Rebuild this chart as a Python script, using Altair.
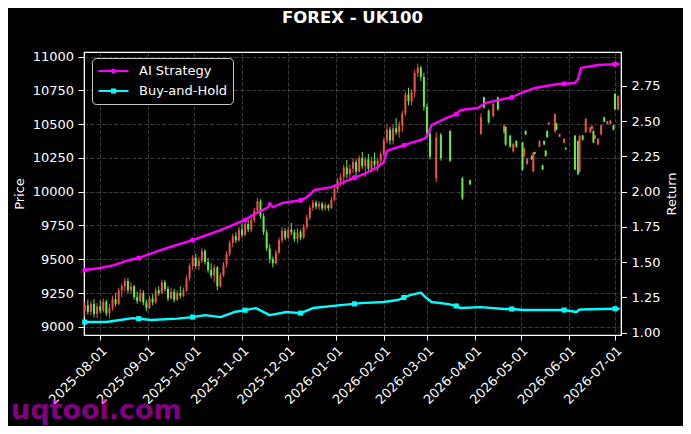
import altair as alt
import pandas as pd

# ---------------- data ----------------
candle_dates = [
    "2025-07-22", "2025-07-24", "2025-07-26", "2025-07-28", "2025-07-30",
    "2025-08-01", "2025-08-03", "2025-08-05", "2025-08-07", "2025-08-09", "2025-08-11", "2025-08-13", "2025-08-15",
    "2025-08-17", "2025-08-19", "2025-08-21", "2025-08-23", "2025-08-25", "2025-08-27", "2025-08-29", "2025-08-31",
    "2025-09-02", "2025-09-04", "2025-09-06", "2025-09-08", "2025-09-10", "2025-09-12", "2025-09-14", "2025-09-16",
    "2025-09-18", "2025-09-20", "2025-09-22", "2025-09-24", "2025-09-26", "2025-09-28", "2025-09-30",
    "2025-10-02", "2025-10-04", "2025-10-06", "2025-10-08", "2025-10-10", "2025-10-12", "2025-10-14", "2025-10-16",
    "2025-10-18", "2025-10-20", "2025-10-22", "2025-10-24", "2025-10-26", "2025-10-28", "2025-10-30",
    "2025-11-01", "2025-11-03", "2025-11-05", "2025-11-07", "2025-11-09", "2025-11-11", "2025-11-13", "2025-11-15",
    "2025-11-17", "2025-11-19", "2025-11-21", "2025-11-23", "2025-11-25", "2025-11-27", "2025-11-29",
    "2025-12-01", "2025-12-03", "2025-12-05", "2025-12-07", "2025-12-09", "2025-12-11", "2025-12-13", "2025-12-15",
    "2025-12-17", "2025-12-19", "2025-12-21", "2025-12-23", "2025-12-25", "2025-12-27", "2025-12-29", "2025-12-31",
    "2026-01-02", "2026-01-04", "2026-01-06", "2026-01-08", "2026-01-10", "2026-01-12", "2026-01-14", "2026-01-16",
    "2026-01-18", "2026-01-20", "2026-01-22", "2026-01-24", "2026-01-26", "2026-01-28", "2026-01-30",
    "2026-02-01", "2026-02-03", "2026-02-05", "2026-02-07", "2026-02-09", "2026-02-11", "2026-02-13", "2026-02-15",
    "2026-02-17", "2026-02-19", "2026-02-21", "2026-02-23", "2026-02-25", "2026-02-27",
    "2026-03-01", "2026-03-03", "2026-03-07", "2026-03-10", "2026-03-16", "2026-03-24", "2026-03-29",
    "2026-04-05", "2026-04-07", "2026-04-10", "2026-04-13", "2026-04-16", "2026-04-20", "2026-04-21", "2026-04-24",
    "2026-04-26", "2026-04-28",
    "2026-05-02", "2026-05-03", "2026-05-04", "2026-05-05", "2026-05-08", "2026-05-09", "2026-05-10", "2026-05-13",
    "2026-05-15", "2026-05-16", "2026-05-17", "2026-05-18", "2026-05-19", "2026-05-23", "2026-05-24", "2026-05-26",
    "2026-05-29", "2026-05-30",
    "2026-06-05", "2026-06-07", "2026-06-08", "2026-06-10", "2026-06-12", "2026-06-15", "2026-06-16", "2026-06-17",
    "2026-06-18", "2026-06-20", "2026-06-22", "2026-06-24", "2026-06-26", "2026-06-28", "2026-06-30",
    "2026-07-01", "2026-07-03",
]
candle_open = [
    9120, 9160, 9110, 9170, 9095,
    9150, 9120, 9185, 9100, 9140, 9205, 9170, 9270, 9300, 9340, 9270, 9300, 9220, 9190, 9250, 9180,
    9140, 9210, 9180, 9270, 9250, 9330, 9280, 9210, 9260, 9200, 9250, 9230, 9270, 9360, 9450,
    9510, 9450, 9490, 9560, 9480, 9420, 9380, 9440, 9300, 9380, 9460, 9540, 9620, 9670, 9640,
    9720, 9680, 9760, 9720, 9790, 9860, 9930, 9820, 9700, 9580, 9500, 9470, 9550, 9640, 9710,
    9660, 9720, 9700, 9650, 9700, 9660, 9740, 9810, 9880, 9920, 9890, 9910, 9875, 9900, 9880, 9940,
    10020, 10080, 10110, 10180, 10130, 10170, 10220, 10150, 10250, 10190, 10240, 10170, 10230, 10200, 10230,
    10280, 10380, 10460, 10380, 10470, 10440, 10490, 10580, 10720, 10670, 10740, 10880, 10920, 10850,
    10630, 10430, 10100, 10420, 10450, 10100, 10085,
    10430, 10700, 10600, 10560, 10700, 10440, 10480, 10415, 10300, 10375,
    10365, 10265, 10450, 10205, 10265, 10150, 10292, 10335, 10195, 10375, 10305, 10450, 10498, 10445, 10505, 10408,
    10362, 10325,
    10415, 10375, 10150, 10418, 10440, 10440, 10462, 10450, 10392, 10350, 10425, 10552, 10502, 10502, 10492,
    10725, 10610,
]
candle_high = [
    9180, 9200, 9190, 9205, 9175,
    9195, 9210, 9200, 9170, 9230, 9250, 9290, 9320, 9365, 9360, 9330, 9310, 9260, 9280, 9270, 9200,
    9230, 9240, 9290, 9300, 9350, 9345, 9300, 9290, 9280, 9270, 9300, 9290, 9380, 9470, 9530,
    9540, 9520, 9585, 9575, 9510, 9470, 9460, 9450, 9400, 9480, 9560, 9640, 9690, 9700, 9740,
    9760, 9780, 9790, 9810, 9880, 9955, 9945, 9840, 9720, 9610, 9520, 9570, 9660, 9740, 9730,
    9740, 9770, 9720, 9730, 9720, 9760, 9830, 9900, 9940, 9935, 9930, 9925, 9920, 9910, 9960, 10040,
    10100, 10135, 10200, 10235, 10200, 10250, 10240, 10270, 10295, 10260, 10280, 10260, 10290, 10250, 10300,
    10400, 10495, 10480, 10500, 10545, 10520, 10600, 10740, 10770, 10760, 10900, 10950, 10935, 10880,
    10650, 10450, 10440, 10435, 10455, 10110, 10090,
    10580, 10705, 10610, 10660, 10705, 10500, 10485, 10420, 10360, 10380,
    10370, 10325, 10455, 10250, 10270, 10295, 10295, 10380, 10200, 10380, 10310, 10455, 10515, 10580, 10510, 10430,
    10395, 10328,
    10420, 10380, 10420, 10420, 10545, 10480, 10490, 10455, 10420, 10395, 10495, 10555, 10525, 10530, 10495,
    10730, 10715,
]
candle_low = [
    9075, 9090, 9085, 9070, 9065,
    9100, 9105, 9080, 9060, 9120, 9150, 9160, 9220, 9260, 9250, 9240, 9200, 9170, 9180, 9160, 9115,
    9130, 9160, 9170, 9230, 9240, 9260, 9190, 9200, 9180, 9190, 9210, 9220, 9260, 9340, 9420,
    9430, 9420, 9470, 9460, 9400, 9360, 9330, 9270, 9290, 9370, 9440, 9520, 9590, 9620, 9630,
    9660, 9670, 9700, 9700, 9770, 9840, 9800, 9680, 9560, 9470, 9440, 9460, 9540, 9620, 9640,
    9650, 9680, 9630, 9620, 9640, 9650, 9720, 9790, 9860, 9870, 9865, 9860, 9860, 9860, 9870, 9930,
    10000, 10040, 10050, 10100, 10080, 10140, 10120, 10140, 10170, 10110, 10150, 10150, 10180, 10150, 10200,
    10260, 10360, 10350, 10350, 10420, 10400, 10440, 10560, 10640, 10640, 10700, 10850, 10820, 10600,
    10400, 10240, 10070, 10230, 10220, 9940, 10050,
    10420, 10615, 10505, 10550, 10600, 10430, 10340, 10325, 10290, 10325,
    10155, 10255, 10420, 10200, 10235, 10145, 10278, 10330, 10160, 10345, 10260, 10400, 10495, 10440, 10455, 10405,
    10360, 10312,
    10160, 10125, 10145, 10380, 10435, 10435, 10460, 10360, 10390, 10345, 10420, 10515, 10500, 10500, 10455,
    10605, 10605,
]
candle_close = [
    9160, 9110, 9170, 9095, 9150,
    9120, 9185, 9100, 9140, 9205, 9170, 9270, 9300, 9340, 9270, 9300, 9220, 9190, 9250, 9180, 9140,
    9210, 9180, 9270, 9250, 9330, 9280, 9210, 9260, 9200, 9250, 9230, 9270, 9360, 9450, 9510,
    9450, 9490, 9560, 9480, 9420, 9380, 9440, 9300, 9380, 9460, 9540, 9620, 9670, 9640, 9720,
    9680, 9760, 9720, 9790, 9860, 9930, 9820, 9700, 9580, 9500, 9470, 9550, 9640, 9710, 9660,
    9720, 9700, 9650, 9700, 9660, 9740, 9810, 9880, 9920, 9890, 9910, 9875, 9900, 9880, 9940, 10020,
    10080, 10110, 10180, 10130, 10170, 10220, 10150, 10250, 10190, 10240, 10170, 10230, 10200, 10230, 10280,
    10380, 10460, 10380, 10470, 10440, 10490, 10580, 10720, 10670, 10740, 10880, 10920, 10850, 10630,
    10430, 10260, 10400, 10250, 10230, 9950, 10055,
    10550, 10625, 10515, 10650, 10610, 10490, 10350, 10335, 10355, 10335,
    10165, 10320, 10425, 10245, 10240, 10290, 10282, 10375, 10165, 10350, 10265, 10405, 10512, 10575, 10460, 10428,
    10392, 10315,
    10165, 10130, 10415, 10385, 10540, 10478, 10488, 10365, 10418, 10392, 10492, 10518, 10522, 10528, 10458,
    10610, 10710,
]

series_names = ["AI Strategy", "Buy-and-Hold"]
series_colors = ["#ff00ff", "#00ffff"]

ai_dates = [
    "2025-07-22", "2025-08-01", "2025-08-10", "2025-08-20", "2025-08-26", "2025-08-31", "2025-09-13", "2025-09-30",
    "2025-10-18", "2025-10-29", "2025-11-03", "2025-11-08", "2025-11-18", "2025-11-19", "2025-11-21", "2025-11-27",
    "2025-12-09", "2025-12-13", "2025-12-18", "2025-12-29", "2026-01-06", "2026-01-13", "2026-01-20", "2026-01-28",
    "2026-02-01", "2026-02-03", "2026-02-14", "2026-02-23", "2026-02-28", "2026-03-02", "2026-03-04", "2026-03-15",
    "2026-03-20", "2026-03-23", "2026-04-03", "2026-04-08", "2026-04-21", "2026-04-25", "2026-05-01", "2026-05-10",
    "2026-05-25", "2026-05-29", "2026-06-05", "2026-06-07", "2026-06-09", "2026-06-20", "2026-07-01", "2026-07-04",
]
ai_values = [
    1.445, 1.459, 1.480, 1.516, 1.530, 1.550, 1.600, 1.657,
    1.728, 1.778, 1.800, 1.835, 1.890, 1.920, 1.890, 1.920,
    1.940, 1.960, 2.012, 2.033, 2.069, 2.100, 2.130, 2.175,
    2.210, 2.290, 2.330, 2.360, 2.381, 2.420, 2.473, 2.530,
    2.550, 2.580, 2.594, 2.630, 2.660, 2.670, 2.700, 2.736,
    2.764, 2.766, 2.771, 2.800, 2.878, 2.899, 2.905, 2.906,
]
bh_dates = [
    "2025-07-22", "2025-08-05", "2025-08-14", "2025-08-22", "2025-08-26", "2025-09-03", "2025-09-20", "2025-09-30",
    "2025-10-08", "2025-10-18", "2025-10-27", "2025-11-03", "2025-11-10", "2025-11-19", "2025-11-30", "2025-12-09",
    "2025-12-17", "2026-01-04", "2026-01-13", "2026-01-17", "2026-02-01", "2026-02-10", "2026-02-14", "2026-02-18",
    "2026-02-25", "2026-02-28", "2026-03-04", "2026-03-15", "2026-03-20", "2026-03-23", "2026-04-05", "2026-04-20",
    "2026-04-25", "2026-05-03", "2026-05-24", "2026-05-29", "2026-06-06", "2026-06-08", "2026-07-01", "2026-07-04",
]
bh_values = [
    1.076, 1.076, 1.090, 1.104, 1.100, 1.090, 1.100, 1.111,
    1.125, 1.111, 1.147, 1.160, 1.175, 1.125, 1.147, 1.139,
    1.175, 1.196, 1.205, 1.210, 1.218, 1.232, 1.250, 1.267,
    1.285, 1.253, 1.218, 1.203, 1.190, 1.175, 1.182, 1.168,
    1.168, 1.161, 1.161, 1.161, 1.147, 1.165, 1.170, 1.170,
]
marker_dates = [
    "2025-07-22", "2025-08-26", "2025-09-30", "2025-11-03", "2025-12-09", "2026-01-13",
    "2026-02-14", "2026-03-20", "2026-04-25", "2026-05-29", "2026-07-01",
]

month_ticks = [
    (2025, 8), (2025, 9), (2025, 10), (2025, 11), (2025, 12), (2026, 1),
    (2026, 2), (2026, 3), (2026, 4), (2026, 5), (2026, 6), (2026, 7),
]
price_ticks = [9000, 9250, 9500, 9750, 10000, 10250, 10500, 10750, 11000]
return_ticks = [1.00, 1.25, 1.50, 1.75, 2.00, 2.25, 2.50, 2.75]

UP_COLOR = "#f0524a"
DOWN_COLOR = "#62ee3c"
FONT = "DejaVu Sans"

# ---------------- tables ----------------
candles = pd.DataFrame({
    "date": candle_dates, "open": candle_open, "high": candle_high,
    "low": candle_low, "close": candle_close,
})
candles["col"] = [UP_COLOR if c >= o else DOWN_COLOR for o, c in zip(candles["open"], candles["close"])]

ai_df = pd.DataFrame({"date": ai_dates, "value": ai_values})
bh_df = pd.DataFrame({"date": bh_dates, "value": bh_values})
ai_marks = ai_df[ai_df["date"].isin(marker_dates)]
bh_marks = bh_df[bh_df["date"].isin(marker_dates)]
key_df = pd.DataFrame({"date": ["2000-01-01", "2000-01-01"], "value": [0.0, 0.0], "series": series_names})

# ---------------- scales / axes ----------------
xscale = alt.Scale(
    type="utc",
    domain=[alt.DateTime(year=2025, month=7, date=21, hours=12, utc=True),
            alt.DateTime(year=2026, month=7, date=4, hours=21, utc=True)],
)
xaxis = alt.Axis(
    values=[alt.DateTime(year=y, month=m, date=1, utc=True) for y, m in month_ticks],
    format="%Y-%m-%d", labelAngle=315, labelAlign="right", labelBaseline="top",
    grid=True, tickSize=5, labelPadding=4, labelOverlap=False, labelFlush=False, title=None,
)
X = alt.X("date:T", scale=xscale, axis=xaxis)

price_scale = alt.Scale(domain=[8939, 11035], nice=False, zero=False)
ret_scale = alt.Scale(domain=[0.984, 2.991], nice=False, zero=False)

price_axis = alt.Axis(title="Price", orient="left", values=price_ticks, format="d", grid=True,
                      tickSize=6, labelPadding=4.5, titlePadding=6)
ret_axis = alt.Axis(title="Return", orient="right", values=return_ticks, format=".2f", grid=False,
                    tickSize=5.5, labelPadding=4.5, titlePadding=6, titleAngle=270, titleBaseline="top")

legend_paths = [
    "M-1,0H1M-0.1,0A0.1,0.1 0 1,0 0.1,0A0.1,0.1 0 1,0 -0.1,0",
    "M-1,0H1M-0.1,-0.1H0.1V0.1H-0.1Z",
]
leg = alt.Legend(
    title=None, orient="none", legendX=8, legendY=6, fillColor="#000000", strokeColor="#cccccc",
    cornerRadius=4, padding=5, labelColor="white", labelFontSize=13, labelFont=FONT,
    symbolSize=900, symbolStrokeWidth=2.2, symbolFillColor="transparent",
    clipHeight=16, rowPadding=4, labelOffset=9, symbolOffset=0,
)


def ret_y(axis=None):
    return alt.Y("value:Q", scale=ret_scale, axis=axis)


# ---------------- layers ----------------
wick = alt.Chart(candles).mark_rule(strokeWidth=1).encode(
    x=X, y=alt.Y("low:Q", scale=price_scale, axis=price_axis), y2="high:Q",
    stroke=alt.Stroke("col:N", scale=None),
)
body = alt.Chart(candles).mark_rule(strokeWidth=2).encode(
    x=X, y=alt.Y("open:Q", scale=price_scale, axis=None), y2="close:Q",
    stroke=alt.Stroke("col:N", scale=None),
)
ai_line = alt.Chart(ai_df).mark_line(strokeWidth=2.4, clip=True, strokeJoin="round",
                                     color=series_colors[0]).encode(x=X, y=ret_y(ret_axis))
bh_line = alt.Chart(bh_df).mark_line(strokeWidth=2.4, clip=True, strokeJoin="round",
                                     color=series_colors[1]).encode(x=X, y=ret_y())
ai_pts = alt.Chart(ai_marks).mark_point(filled=True, shape="circle", size=26, opacity=1,
                                        color=series_colors[0]).encode(x=X, y=ret_y())
bh_pts = alt.Chart(bh_marks).mark_point(filled=True, shape="square", size=26, opacity=1,
                                        color=series_colors[1]).encode(x=X, y=ret_y())
key = alt.Chart(key_df).mark_point(filled=False, size=900, strokeWidth=2.2, opacity=1, clip=True).encode(
    x=X, y=ret_y(),
    color=alt.Color("series:N", scale=alt.Scale(domain=series_names, range=series_colors), legend=leg),
    shape=alt.Shape("series:N", scale=alt.Scale(domain=series_names, range=legend_paths), legend=leg),
)
watermark = alt.Chart(pd.DataFrame({"t": ["uqtool.com"]})).mark_text(
    font=FONT, fontSize=27, fontWeight="bold", color="#ff00ff", opacity=0.5,
    align="left", baseline="alphabetic",
).encode(text="t:N", x=alt.value(-73), y=alt.value(367))

chart = alt.layer(wick, body, ai_line, bh_line, ai_pts, bh_pts, key, watermark).resolve_scale(
    y="independent"
).properties(
    width=537, height=283,
    title=alt.TitleParams(text="FOREX - UK100", font=FONT, fontSize=16.5, fontWeight="bold",
                          color="white", anchor="middle", baseline="alphabetic", offset=11),
    padding={"left": 76, "top": 44, "right": 62, "bottom": 91},
    autosize=alt.AutoSizeParams(type="none"),
    background="#000000",
).configure(font=FONT).configure_view(
    stroke="white", strokeWidth=1.2,
).configure_axis(
    labelColor="white", titleColor="white", tickColor="white", domainColor="white",
    labelFont=FONT, titleFont=FONT, labelFontSize=13, titleFontSize=13, titleFontWeight="normal",
    gridColor="#555555", gridDash=[4, 2], gridWidth=0.7, labelFlush=False,
)

chart.save("out.html", embed_options={"renderer": "svg", "actions": False})
